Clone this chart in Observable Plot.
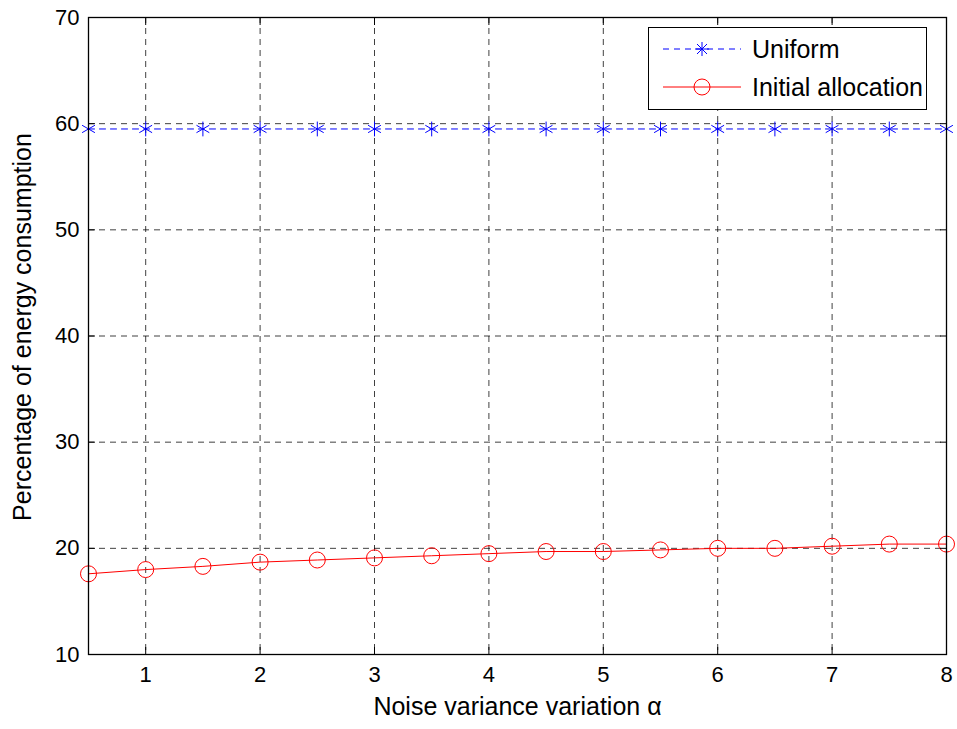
<!DOCTYPE html>
<html><head><meta charset="utf-8">
<script src="https://cdn.jsdelivr.net/npm/d3@7"></script>
<script src="https://cdn.jsdelivr.net/npm/@observablehq/plot@0.6"></script>
<style>
body{margin:0;background:#fff;font-family:"Liberation Sans",Arial,sans-serif;}
#wrap{position:relative;width:957px;height:729px;}
#legend{position:absolute;left:648px;top:27px;width:279px;height:83px;border:1.3px solid #000;background:#fff;box-sizing:border-box;font-size:25px;color:#000;}
#legend .row{position:absolute;left:0;height:30px;display:flex;align-items:center;}
#legend svg{display:block}
</style></head><body>
<div id="wrap"><div id="chart"></div>
<div id="legend">
 <div class="row" style="top:6px"><svg width="100" height="30"><line x1="14" y1="15" x2="92" y2="15" stroke="#0000ff" stroke-dasharray="6,5"/><g stroke="#0000ff"><line x1="53" y1="8" x2="53" y2="22"/><line x1="46" y1="15" x2="60" y2="15"/><line x1="48" y1="10" x2="58" y2="20"/><line x1="48" y1="20" x2="58" y2="10"/></g></svg><span style="margin-left:3px">Uniform</span></div>
 <div class="row" style="top:44px"><svg width="100" height="30"><line x1="14" y1="15" x2="92" y2="15" stroke="#ff0000"/><circle cx="53" cy="15" r="8" fill="none" stroke="#ff0000"/></svg><span style="margin-left:3px">Initial allocation</span></div>
</div></div>
<script>
const alpha = [0.5,1,1.5,2,2.5,3,3.5,4,4.5,5,5.5,6,6.5,7,7.5,8];
const uniform = [59.5,59.5,59.5,59.5,59.5,59.5,59.5,59.5,59.5,59.5,59.5,59.5,59.5,59.5,59.5,59.5];
const initialAlloc = [17.6,18.0,18.3,18.7,18.9,19.1,19.3,19.5,19.7,19.7,19.85,20.0,20.0,20.2,20.4,20.4];
const xTicks = [1,2,3,4,5,6,7,8];
const yTicks = [10,20,30,40,50,60,70];
const xLabel = "Noise variance variation α";
const yLabel = "Percentage of energy consumption";

const dataU = alpha.map((a,i)=>({a, v: uniform[i]}));
const dataI = alpha.map((a,i)=>({a, v: initialAlloc[i]}));
const grid = {stroke:"#000", strokeOpacity:0.75, strokeDasharray:"6,5", strokeWidth:1};

const chart = Plot.plot({
  width: 957, height: 729,
  marginLeft: 88, marginRight: 11, marginTop: 17, marginBottom: 75,
  style: {fontFamily: "'Liberation Sans', Arial, sans-serif", color:"#000", background:"#fff"},
  x: {domain: [0.5, 8]},
  y: {domain: [10, 70]},
  marks: [
    Plot.ruleX(xTicks, {...grid}),
    Plot.ruleY(yTicks, {...grid}),
    Plot.line(dataU, {x:"a", y:"v", stroke:"#0000ff", strokeWidth:1, strokeDasharray:"6,5"}),
    Plot.dot(dataU, {x:"a", y:"v", symbol:"asterisk", r:7, stroke:"#0000ff", strokeWidth:1}),
    Plot.line(dataI, {x:"a", y:"v", stroke:"#ff0000", strokeWidth:1}),
    Plot.dot(dataI, {x:"a", y:"v", symbol:"circle", r:8, stroke:"#ff0000", fill:"none", strokeWidth:1}),
    Plot.axisX(xTicks, {anchor:"bottom", tickSize:-7, tickPadding:19, fontSize:22, tickFormat:d3.format("d"), label:null}),
    Plot.axisX(xTicks, {anchor:"top", tickSize:-7, tickFormat:()=> "", label:null}),
    Plot.axisY(yTicks, {anchor:"left", tickSize:-7, tickPadding:16, fontSize:22, tickFormat:d3.format("d"), label:null}),
    Plot.axisY(yTicks, {anchor:"right", tickSize:-7, tickFormat:()=> "", label:null}),
    Plot.text([xLabel], {frameAnchor:"bottom", dy:60, fontSize:25, fill:"#000"}),
    Plot.text([yLabel], {frameAnchor:"left", textAnchor:"middle", dx:-66, dy:-9, rotate:-90, fontSize:25, fill:"#000"}),
    Plot.frame({stroke:"#000", strokeWidth:1.3})
  ]
});
document.getElementById("chart").appendChild(chart);
</script>
</body></html>
